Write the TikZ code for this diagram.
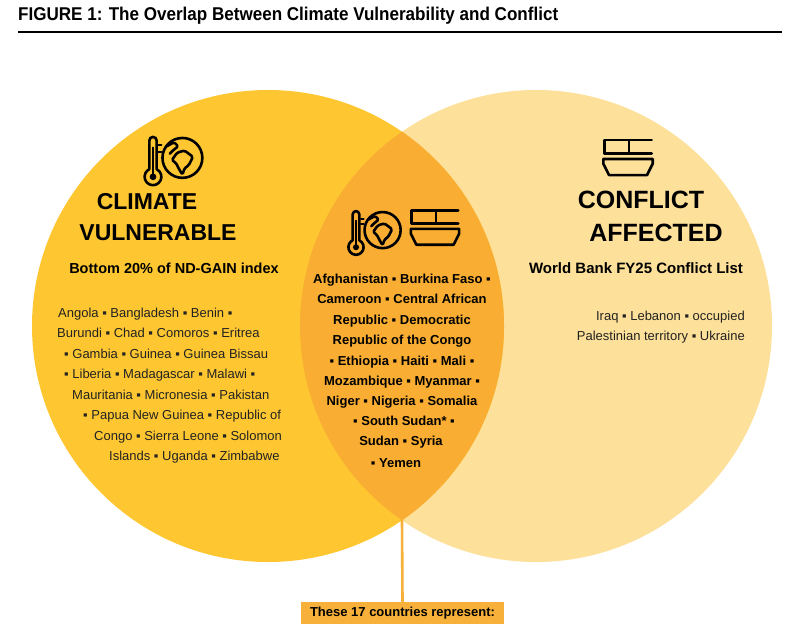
\documentclass[tikz,border=0pt]{standalone}
\usepackage{fontspec}
\setmainfont{Liberation Sans}
\usepackage{graphicx}
\definecolor{cyel}{HTML}{FEC731}
\definecolor{cpale}{HTML}{FDE09A}
\definecolor{cmid}{HTML}{F9AD32}
\definecolor{cbox}{HTML}{F7B13A}
\definecolor{ctxt}{HTML}{222222}
\newcommand\bul{▪}
\tikzset{
  body/.style={font=\fontsize{13}{15}\selectfont, inner sep=0pt, text=ctxt},
  bodyb/.style={font=\fontsize{13}{15}\selectfont\bfseries, inner sep=0pt, text=black},
  big/.style={font=\fontsize{23}{26}\selectfont\bfseries, inner sep=0pt, text=black},
  sub/.style={font=\fontsize{14.5}{17}\selectfont\bfseries, inner sep=0pt, text=black},
  icon/.style={line width=2.6pt, line join=round, line cap=round, draw=black},
  thermoglobe/.pic={
    \begin{scope}[yscale=-1]
      \draw[icon] (-23.5,-8.8) -- (-23.5,18.5) arc[start angle=180,end angle=0,radius=3.5]
        -- (-16.5,-8.8) arc[start angle=64,end angle=-244,radius=8];
      \fill (-20,-16) circle (3.2);
      \draw[icon, line width=1.6pt] (-20,-16) -- (-20,12);
      \draw[icon, line width=2pt] (-15,14) -- (-12,14) (-15,8) -- (-12,8);
      \draw[icon] (8,2) circle (19);
      \draw[icon, rounded corners=1.5] (3,7) -- (10,9) -- (14,6) -- (18,3) -- (14,-5) -- (10,-8)
        -- (8,-14) -- (5,-9) -- (2,-3) -- (-2,0) -- cycle;
      \draw[icon, rounded corners=1.5] (-7,13) -- (0,17) -- (4,13) -- (0,10) -- (-4,6);
    \end{scope}
  },
  tank/.pic={
    \begin{scope}[yscale=-1]
      \draw[icon] (-25,5) rectangle (1,19);
      \draw[icon] (1,19) -- (25,19);
      \draw[icon] (-25,5) -- (25,5);
      \draw[icon] (-26,-1) -- (26,-1) -- (26,-6) -- (20,-18) -- (-20,-18) -- (-26,-6) -- cycle;
    \end{scope}
  }
}
\begin{document}
\begin{tikzpicture}[x=1pt,y=-1pt]
\useasboundingbox[fill=white] (0,0) rectangle (800,632);
% title
\node[anchor=base west, inner sep=0pt] (title) at (18,20.5)
  {\resizebox{540pt}{\height}{\fontsize{18.5}{21}\selectfont\bfseries FIGURE 1: The Overlap Between Climate Vulnerability and Conflict}};
\coordinate (rl) at (18,32);
\coordinate (rr) at (782,32);
\draw[line width=2.5pt] (rl) -- (rr);
% circles
\fill[cpale] (536,326) circle (236);
\fill[cyel] (268,326) circle (236);
\begin{scope}
  \clip (268,326) circle (236);
  \fill[cmid] (536,326) circle (236);
\end{scope}
% icons
\pic[scale=1.05] at (174,160) {thermoglobe};
\pic[scale=0.95] at (375,232) {thermoglobe};
\pic[scale=0.93] at (435,228) {tank};
\pic[scale=0.95] at (628,158) {tank};
% left texts
\node[big] (clim) at (147,202) {CLIMATE};
\node[big] (vuln) at (158,233) {VULNERABLE};
\node[sub, anchor=base] (nd) at (174,273.2) {Bottom 20\% of ND-GAIN index};
\node[body, anchor=base west] (l1) at (58,317.7) {Angola \bul{} Bangladesh \bul{} Benin \bul};
\node[body, anchor=base west] (l2) at (57,337.7) {Burundi \bul{} Chad \bul{} Comoros \bul{} Eritrea};
\node[body, anchor=base west] (l3) at (64,358.7) {\bul{} Gambia \bul{} Guinea \bul{} Guinea Bissau};
\node[body, anchor=base west] (l4) at (64,378.7) {\bul{} Liberia \bul{} Madagascar \bul{} Malawi \bul};
\node[body, anchor=base west] (l5) at (72,399.7) {Mauritania \bul{} Micronesia \bul{} Pakistan};
\node[body, anchor=base west] (l6) at (83,419.7) {\bul{} Papua New Guinea \bul{} Republic of};
\node[body, anchor=base west] (l7) at (94,440.7) {Congo \bul{} Sierra Leone \bul{} Solomon};
\node[body, anchor=base west] (l8) at (109,460.7) {Islands \bul{} Uganda \bul{} Zimbabwe};
% middle texts
\node[bodyb, anchor=base] (m1) at (402,283.7) {Afghanistan \bul{} Burkina Faso \bul};
\node[bodyb, anchor=base] (m2) at (402,303.7) {Cameroon \bul{} Central African};
\node[bodyb, anchor=base] (m3) at (402,324.7) {Republic \bul{} Democratic};
\node[bodyb, anchor=base] (m4) at (402,344.7) {Republic of the Congo};
\node[bodyb, anchor=base] (m5) at (402,365.7) {\bul{} Ethiopia \bul{} Haiti \bul{} Mali \bul};
\node[bodyb, anchor=base] (m6) at (402,385.7) {Mozambique \bul{} Myanmar \bul};
\node[bodyb, anchor=base] (m7) at (402,405.7) {Niger \bul{} Nigeria \bul{} Somalia};
\node[bodyb, anchor=base] (m8) at (404,425.7) {\bul{} South Sudan* \bul};
\node[bodyb, anchor=base] (m9) at (401,445.7) {Sudan \bul{} Syria};
\node[bodyb, anchor=base] (m10) at (396,467.7) {\bul{} Yemen};
% right texts
\node[big, font=\fontsize{25}{28}\selectfont\bfseries] (conf) at (641,200) {CONFLICT};
\node[big, font=\fontsize{25}{28}\selectfont\bfseries] (aff) at (656,233) {AFFECTED};
\node[sub, font=\fontsize{15}{17}\selectfont\bfseries, anchor=base] (wb) at (636,273.4) {World Bank FY25 Conflict List};
\node[body, anchor=base east] (r1) at (745,320.7) {Iraq \bul{} Lebanon \bul{} occupied};
\node[body, anchor=base east] (r2) at (745,340.7) {Palestinian territory \bul{} Ukraine};
% bottom
\coordinate (ix) at (402,520);
\node[fill=cbox, minimum width=203pt, minimum height=22pt, inner sep=0pt,
      font=\fontsize{13}{15}\selectfont\bfseries] (box) at (402.5,613) {These 17 countries represent:};
\draw[cbox, line width=2.6pt] (ix) -- (box.north);
\end{tikzpicture}
\end{document}
